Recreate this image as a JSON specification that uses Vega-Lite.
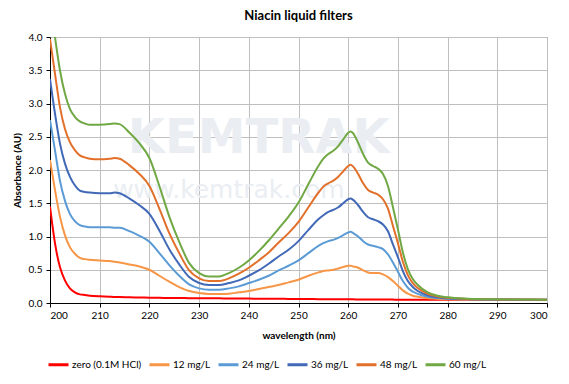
{
  "$schema": "https://vega.github.io/schema/vega-lite/v6.json",
  "autosize": {"type": "none"},
  "padding": {"left": 50, "top": 37, "right": 22, "bottom": 81},
  "width": 497,
  "height": 266,
  "title": {"text": "Niacin liquid filters", "font": "Lato", "fontSize": 13, "fontWeight": "bold", "color": "#000000", "offset": 9, "anchor": "middle"},
  "config": {
    "font": "Lato",
    "view": {"stroke": "#808080", "strokeWidth": 1},
    "axis": {"grid": true, "labelFont": "Lato", "labelFontSize": 10, "labelColor": "#000000", "labelOverlap": false, "titleFont": "Lato", "titleFontSize": 10, "titleFontWeight": "bold", "titleColor": "#000000", "gridColor": "#BFBFBF", "gridWidth": 1, "domainColor": "#000000", "tickColor": "#000000", "tickSize": 4},
    "legend": {"labelFont": "Lato", "labelFontSize": 10, "labelColor": "#000000"}
  },
  "layer": [
    {
      "data": {"values": [{}]},
      "mark": {"type": "text", "text": "KEMTRAK", "font": "DejaVu Sans", "fontSize": 48, "fontWeight": "bold", "color": "#EAEEF3", "align": "center", "baseline": "middle"},
      "encoding": {
        "x": {"datum": 242, "type": "quantitative", "scale": {"domain": [200, 300], "nice": false, "zero": false},
              "axis": {"values": [200, 210, 220, 230, 240, 250, 260, 270, 280, 290, 300], "title": "wavelength (nm)", "titlePadding": 10, "labelPadding": 3, "grid": true}},
        "y": {"datum": 2.47, "type": "quantitative", "scale": {"domain": [0, 4], "nice": false},
              "axis": {"values": [0, 0.5, 1, 1.5, 2, 2.5, 3, 3.5, 4], "format": ".1f", "title": "Absorbance (AU)", "titlePadding": 6, "labelPadding": 4, "grid": true}}
      }
    },
    {
      "data": {"values": [{}]},
      "mark": {"type": "text", "text": "www.kemtrak.com", "font": "DejaVu Sans", "fontSize": 25, "color": "#EAEEF3", "align": "center", "baseline": "middle"},
      "encoding": {
        "x": {"datum": 236, "type": "quantitative", "scale": {"domain": [200, 300], "nice": false, "zero": false},
              "axis": {"values": [200, 210, 220, 230, 240, 250, 260, 270, 280, 290, 300], "title": "wavelength (nm)", "titlePadding": 10, "labelPadding": 3, "grid": true}},
        "y": {"datum": 1.7, "type": "quantitative", "scale": {"domain": [0, 4], "nice": false},
              "axis": {"values": [0, 0.5, 1, 1.5, 2, 2.5, 3, 3.5, 4], "format": ".1f", "title": "Absorbance (AU)", "titlePadding": 6, "labelPadding": 4, "grid": true}}
      }
    },
    {
      "data": {"values": [
        {"w": 200, "zero": 1.45, "12 mg/L": 2.15, "24 mg/L": 2.75, "36 mg/L": 3.37, "48 mg/L": 3.97, "60 mg/L": 4.55},
        {"w": 201, "zero": 0.90, "12 mg/L": 1.70, "24 mg/L": 2.30, "36 mg/L": 2.85, "48 mg/L": 3.45, "60 mg/L": 4.00},
        {"w": 202, "zero": 0.54, "12 mg/L": 1.30, "24 mg/L": 1.84, "36 mg/L": 2.40, "48 mg/L": 2.95, "60 mg/L": 3.50},
        {"w": 203, "zero": 0.34, "12 mg/L": 1.02, "24 mg/L": 1.54, "36 mg/L": 2.10, "48 mg/L": 2.62, "60 mg/L": 3.15},
        {"w": 204, "zero": 0.22, "12 mg/L": 0.84, "24 mg/L": 1.34, "36 mg/L": 1.90, "48 mg/L": 2.42, "60 mg/L": 2.92},
        {"w": 205, "zero": 0.16, "12 mg/L": 0.74, "24 mg/L": 1.23, "36 mg/L": 1.77, "48 mg/L": 2.30, "60 mg/L": 2.80},
        {"w": 206, "zero": 0.13, "12 mg/L": 0.68, "24 mg/L": 1.17, "36 mg/L": 1.69, "48 mg/L": 2.22, "60 mg/L": 2.73},
        {"w": 207, "zero": 0.12, "12 mg/L": 0.66, "24 mg/L": 1.15, "36 mg/L": 1.67, "48 mg/L": 2.19, "60 mg/L": 2.70},
        {"w": 208, "zero": 0.11, "12 mg/L": 0.65, "24 mg/L": 1.14, "36 mg/L": 1.66, "48 mg/L": 2.17, "60 mg/L": 2.68},
        {"w": 210, "zero": 0.10, "12 mg/L": 0.64, "24 mg/L": 1.14, "36 mg/L": 1.65, "48 mg/L": 2.16, "60 mg/L": 2.68},
        {"w": 212, "zero": 0.095, "12 mg/L": 0.63, "24 mg/L": 1.14, "36 mg/L": 1.65, "48 mg/L": 2.17, "60 mg/L": 2.69},
        {"w": 213, "zero": 0.09, "12 mg/L": 0.62, "24 mg/L": 1.13, "36 mg/L": 1.66, "48 mg/L": 2.18, "60 mg/L": 2.70},
        {"w": 214, "zero": 0.09, "12 mg/L": 0.61, "24 mg/L": 1.13, "36 mg/L": 1.65, "48 mg/L": 2.17, "60 mg/L": 2.69},
        {"w": 216, "zero": 0.085, "12 mg/L": 0.58, "24 mg/L": 1.08, "36 mg/L": 1.57, "48 mg/L": 2.07, "60 mg/L": 2.56},
        {"w": 218, "zero": 0.083, "12 mg/L": 0.55, "24 mg/L": 1.01, "36 mg/L": 1.47, "48 mg/L": 1.94, "60 mg/L": 2.40},
        {"w": 220, "zero": 0.08, "12 mg/L": 0.50, "24 mg/L": 0.92, "36 mg/L": 1.34, "48 mg/L": 1.76, "60 mg/L": 2.18},
        {"w": 222, "zero": 0.078, "12 mg/L": 0.41, "24 mg/L": 0.75, "36 mg/L": 1.09, "48 mg/L": 1.42, "60 mg/L": 1.76},
        {"w": 224, "zero": 0.076, "12 mg/L": 0.32, "24 mg/L": 0.57, "36 mg/L": 0.81, "48 mg/L": 1.05, "60 mg/L": 1.30},
        {"w": 226, "zero": 0.075, "12 mg/L": 0.24, "24 mg/L": 0.41, "36 mg/L": 0.58, "48 mg/L": 0.75, "60 mg/L": 0.92},
        {"w": 228, "zero": 0.073, "12 mg/L": 0.18, "24 mg/L": 0.28, "36 mg/L": 0.39, "48 mg/L": 0.49, "60 mg/L": 0.60},
        {"w": 230, "zero": 0.072, "12 mg/L": 0.15, "24 mg/L": 0.22, "36 mg/L": 0.30, "48 mg/L": 0.37, "60 mg/L": 0.45},
        {"w": 232, "zero": 0.071, "12 mg/L": 0.137, "24 mg/L": 0.20, "36 mg/L": 0.27, "48 mg/L": 0.33, "60 mg/L": 0.40},
        {"w": 234, "zero": 0.07, "12 mg/L": 0.136, "24 mg/L": 0.20, "36 mg/L": 0.27, "48 mg/L": 0.33, "60 mg/L": 0.40},
        {"w": 236, "zero": 0.068, "12 mg/L": 0.14, "24 mg/L": 0.22, "36 mg/L": 0.30, "48 mg/L": 0.37, "60 mg/L": 0.45},
        {"w": 238, "zero": 0.067, "12 mg/L": 0.16, "24 mg/L": 0.25, "36 mg/L": 0.34, "48 mg/L": 0.44, "60 mg/L": 0.53},
        {"w": 240, "zero": 0.066, "12 mg/L": 0.18, "24 mg/L": 0.30, "36 mg/L": 0.41, "48 mg/L": 0.53, "60 mg/L": 0.64},
        {"w": 242, "zero": 0.065, "12 mg/L": 0.21, "24 mg/L": 0.35, "36 mg/L": 0.49, "48 mg/L": 0.64, "60 mg/L": 0.78},
        {"w": 244, "zero": 0.064, "12 mg/L": 0.24, "24 mg/L": 0.41, "36 mg/L": 0.59, "48 mg/L": 0.76, "60 mg/L": 0.94},
        {"w": 246, "zero": 0.063, "12 mg/L": 0.27, "24 mg/L": 0.49, "36 mg/L": 0.70, "48 mg/L": 0.91, "60 mg/L": 1.12},
        {"w": 248, "zero": 0.062, "12 mg/L": 0.31, "24 mg/L": 0.56, "36 mg/L": 0.80, "48 mg/L": 1.05, "60 mg/L": 1.30},
        {"w": 250, "zero": 0.06, "12 mg/L": 0.35, "24 mg/L": 0.64, "36 mg/L": 0.93, "48 mg/L": 1.22, "60 mg/L": 1.51},
        {"w": 252, "zero": 0.06, "12 mg/L": 0.41, "24 mg/L": 0.75, "36 mg/L": 1.10, "48 mg/L": 1.44, "60 mg/L": 1.79},
        {"w": 254, "zero": 0.058, "12 mg/L": 0.46, "24 mg/L": 0.86, "36 mg/L": 1.26, "48 mg/L": 1.66, "60 mg/L": 2.06},
        {"w": 255, "zero": 0.058, "12 mg/L": 0.48, "24 mg/L": 0.90, "36 mg/L": 1.32, "48 mg/L": 1.75, "60 mg/L": 2.17},
        {"w": 256, "zero": 0.057, "12 mg/L": 0.49, "24 mg/L": 0.93, "36 mg/L": 1.37, "48 mg/L": 1.80, "60 mg/L": 2.24},
        {"w": 257, "zero": 0.057, "12 mg/L": 0.50, "24 mg/L": 0.95, "36 mg/L": 1.40, "48 mg/L": 1.84, "60 mg/L": 2.29},
        {"w": 258, "zero": 0.056, "12 mg/L": 0.52, "24 mg/L": 0.98, "36 mg/L": 1.44, "48 mg/L": 1.90, "60 mg/L": 2.36},
        {"w": 259, "zero": 0.056, "12 mg/L": 0.54, "24 mg/L": 1.02, "36 mg/L": 1.50, "48 mg/L": 1.98, "60 mg/L": 2.46},
        {"w": 260, "zero": 0.055, "12 mg/L": 0.56, "24 mg/L": 1.06, "36 mg/L": 1.56, "48 mg/L": 2.06, "60 mg/L": 2.56},
        {"w": 260.5, "zero": 0.055, "12 mg/L": 0.56, "24 mg/L": 1.07, "36 mg/L": 1.57, "48 mg/L": 2.08, "60 mg/L": 2.58},
        {"w": 261, "zero": 0.055, "12 mg/L": 0.55, "24 mg/L": 1.05, "36 mg/L": 1.55, "48 mg/L": 2.05, "60 mg/L": 2.55},
        {"w": 262, "zero": 0.054, "12 mg/L": 0.53, "24 mg/L": 1.00, "36 mg/L": 1.47, "48 mg/L": 1.94, "60 mg/L": 2.41},
        {"w": 263, "zero": 0.054, "12 mg/L": 0.49, "24 mg/L": 0.93, "36 mg/L": 1.37, "48 mg/L": 1.80, "60 mg/L": 2.24},
        {"w": 264, "zero": 0.053, "12 mg/L": 0.46, "24 mg/L": 0.88, "36 mg/L": 1.29, "48 mg/L": 1.70, "60 mg/L": 2.11},
        {"w": 265, "zero": 0.053, "12 mg/L": 0.45, "24 mg/L": 0.86, "36 mg/L": 1.26, "48 mg/L": 1.66, "60 mg/L": 2.06},
        {"w": 266, "zero": 0.053, "12 mg/L": 0.45, "24 mg/L": 0.84, "36 mg/L": 1.23, "48 mg/L": 1.63, "60 mg/L": 2.02},
        {"w": 267, "zero": 0.052, "12 mg/L": 0.43, "24 mg/L": 0.81, "36 mg/L": 1.18, "48 mg/L": 1.56, "60 mg/L": 1.94},
        {"w": 268, "zero": 0.052, "12 mg/L": 0.39, "24 mg/L": 0.73, "36 mg/L": 1.08, "48 mg/L": 1.42, "60 mg/L": 1.76},
        {"w": 269, "zero": 0.051, "12 mg/L": 0.33, "24 mg/L": 0.61, "36 mg/L": 0.88, "48 mg/L": 1.16, "60 mg/L": 1.44},
        {"w": 270, "zero": 0.05, "12 mg/L": 0.26, "24 mg/L": 0.47, "36 mg/L": 0.69, "48 mg/L": 0.90, "60 mg/L": 1.11},
        {"w": 271, "zero": 0.05, "12 mg/L": 0.19, "24 mg/L": 0.33, "36 mg/L": 0.48, "48 mg/L": 0.62, "60 mg/L": 0.76},
        {"w": 272, "zero": 0.05, "12 mg/L": 0.14, "24 mg/L": 0.23, "36 mg/L": 0.33, "48 mg/L": 0.42, "60 mg/L": 0.51},
        {"w": 273, "zero": 0.05, "12 mg/L": 0.11, "24 mg/L": 0.17, "36 mg/L": 0.24, "48 mg/L": 0.30, "60 mg/L": 0.36},
        {"w": 274, "zero": 0.05, "12 mg/L": 0.094, "24 mg/L": 0.138, "36 mg/L": 0.18, "48 mg/L": 0.226, "60 mg/L": 0.27},
        {"w": 276, "zero": 0.05, "12 mg/L": 0.072, "24 mg/L": 0.094, "36 mg/L": 0.116, "48 mg/L": 0.138, "60 mg/L": 0.16},
        {"w": 278, "zero": 0.05, "12 mg/L": 0.062, "24 mg/L": 0.074, "36 mg/L": 0.086, "48 mg/L": 0.098, "60 mg/L": 0.11},
        {"w": 280, "zero": 0.05, "12 mg/L": 0.057, "24 mg/L": 0.064, "36 mg/L": 0.071, "48 mg/L": 0.078, "60 mg/L": 0.085},
        {"w": 284, "zero": 0.05, "12 mg/L": 0.053, "24 mg/L": 0.056, "36 mg/L": 0.059, "48 mg/L": 0.062, "60 mg/L": 0.065},
        {"w": 290, "zero": 0.048, "12 mg/L": 0.05, "24 mg/L": 0.051, "36 mg/L": 0.052, "48 mg/L": 0.054, "60 mg/L": 0.055},
        {"w": 300, "zero": 0.045, "12 mg/L": 0.047, "24 mg/L": 0.048, "36 mg/L": 0.049, "48 mg/L": 0.05, "60 mg/L": 0.05}
      ]},
      "transform": [
        {"fold": ["zero", "12 mg/L", "24 mg/L", "36 mg/L", "48 mg/L", "60 mg/L"], "as": ["series", "a"]}
      ],
      "mark": {"type": "line", "interpolate": "monotone", "clip": true, "strokeWidth": 2},
      "encoding": {
        "x": {"field": "w", "type": "quantitative", "scale": {"domain": [200, 300], "nice": false, "zero": false},
              "axis": {"values": [200, 210, 220, 230, 240, 250, 260, 270, 280, 290, 300], "title": "wavelength (nm)", "titlePadding": 10, "labelPadding": 3, "grid": true}},
        "y": {"field": "a", "type": "quantitative", "scale": {"domain": [0, 4], "nice": false},
              "axis": {"values": [0, 0.5, 1, 1.5, 2, 2.5, 3, 3.5, 4], "format": ".1f", "title": "Absorbance (AU)", "titlePadding": 6, "labelPadding": 4, "grid": true}},
        "color": {"field": "series", "type": "nominal",
                  "scale": {"domain": ["zero", "12 mg/L", "24 mg/L", "36 mg/L", "48 mg/L", "60 mg/L"],
                            "range": ["#FF0000", "#F79646", "#5B9BD5", "#4169B7", "#E2702A", "#70A844"]},
                  "sort": ["zero", "12 mg/L", "24 mg/L", "36 mg/L", "48 mg/L", "60 mg/L"],
                  "legend": {"title": null, "orient": "none", "direction": "horizontal", "legendX": -3, "legendY": 316,
                             "symbolType": "stroke", "symbolSize": 400, "symbolStrokeWidth": 3, "labelOffset": 2, "columnPadding": 1,
                             "labelExpr": "datum.label == 'zero' ? 'zero (0.1M HCl)' : datum.label"}},
        "strokeWidth": {"condition": {"test": "datum.series == 'zero'", "value": 3}, "value": 2}
      }
    }
  ]
}
